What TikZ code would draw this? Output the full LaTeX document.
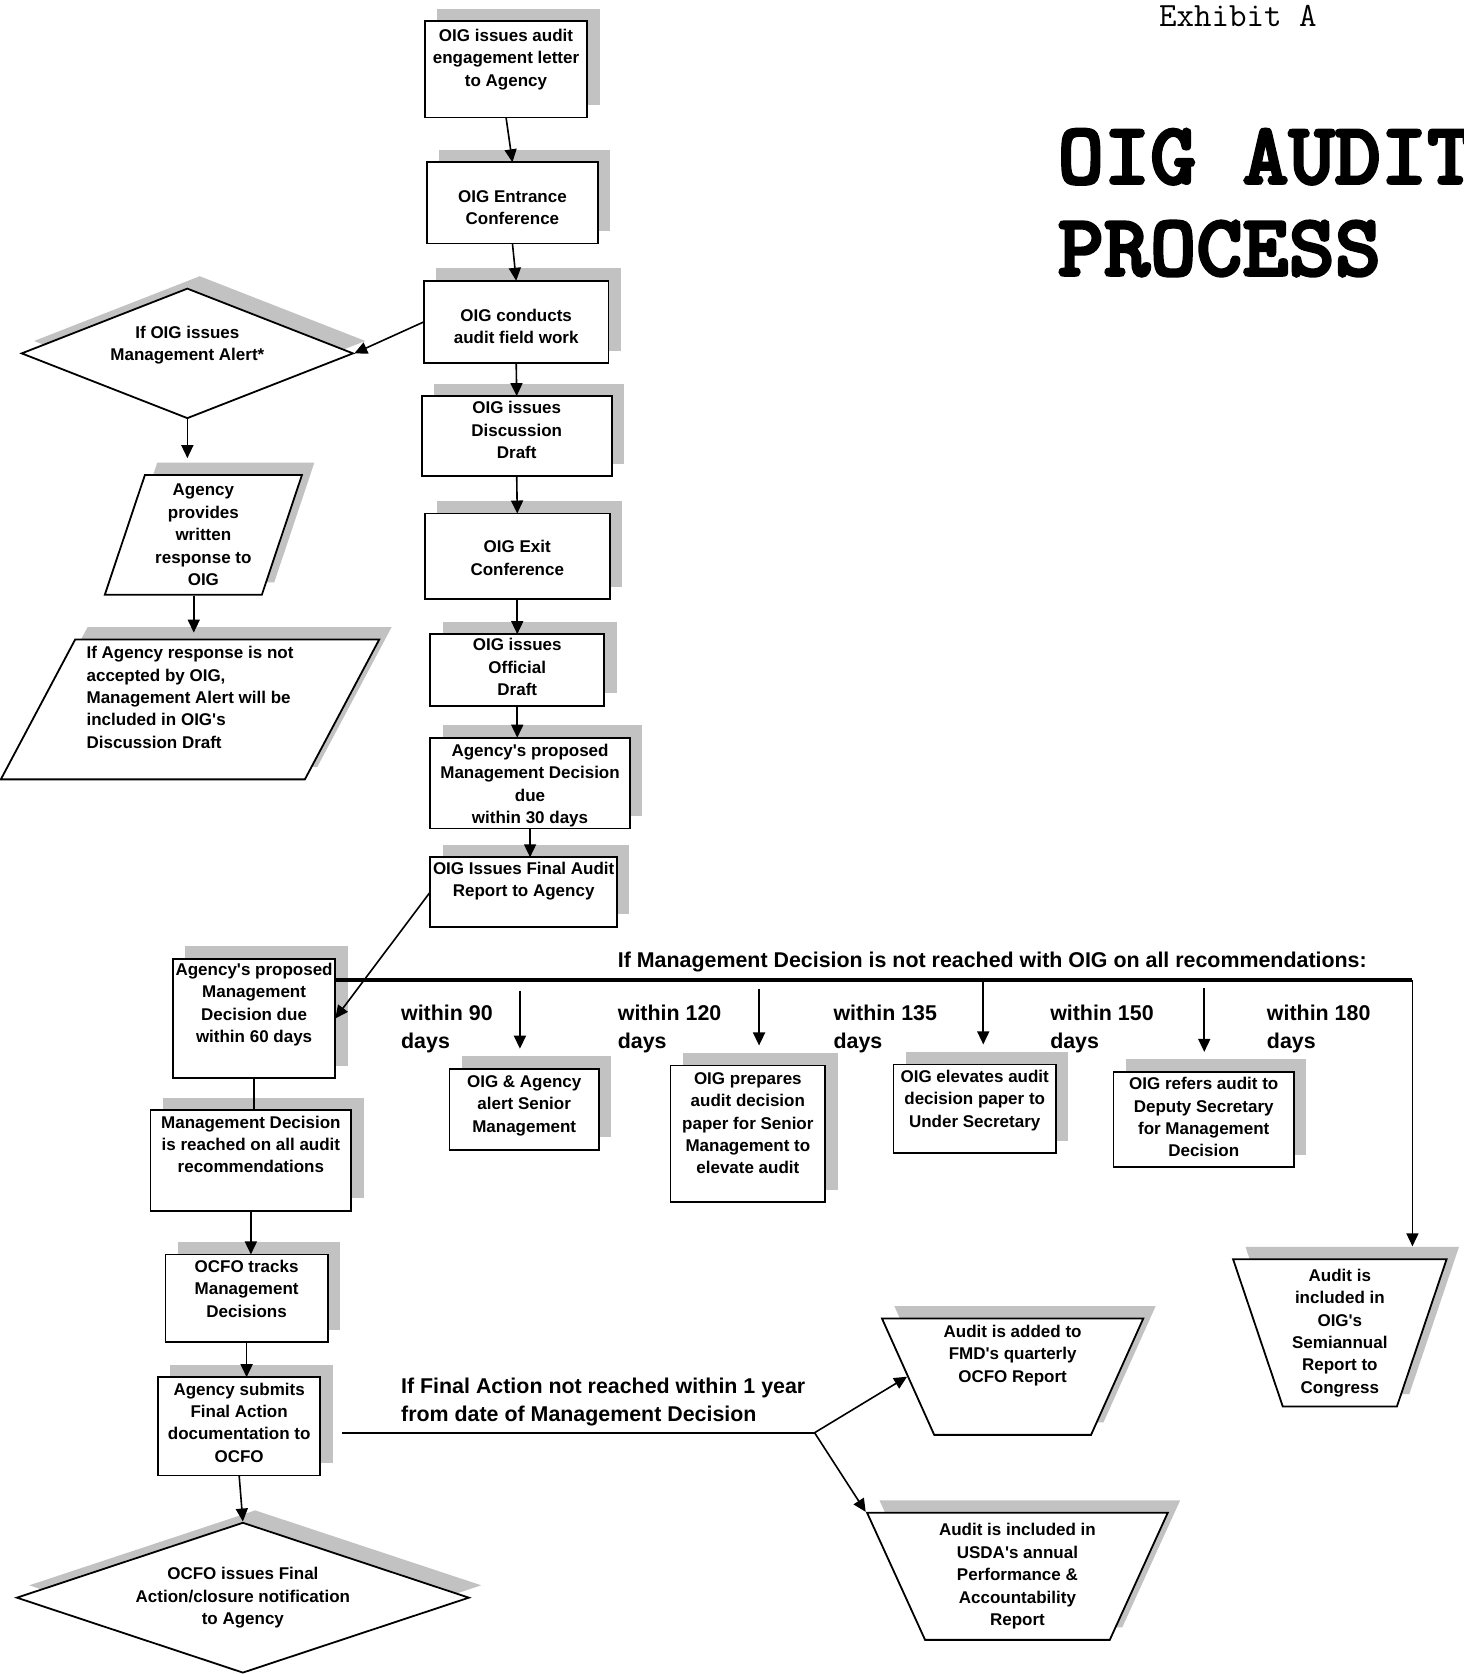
\documentclass[tikz,border=0pt]{standalone}
\usepackage{fontspec}
\setmainfont{Liberation Sans}
\newfontfamily\titlefont{lmmonolt10-bold.otf}[FakeBold=3]
\usetikzlibrary{shapes.geometric,shadows,arrows.meta}
\newlength{\unitpx}\setlength{\unitpx}{0.534pt}
\newcommand{\boxfont}{\fontsize{8.5}{11.2}\selectfont\bfseries}
\newcommand{\notefont}{\fontsize{10.7}{13.9}\selectfont\bfseries}
\newcommand{\ap}{\textquotesingle}
% box of #1 x #2 px, text lines start #3 px below the top
\newcommand{\boxtext}[4]{\parbox[c][#2\unitpx][t]{#1\unitpx}{\vspace*{#3\unitpx}\makebox[#1\unitpx]{\begin{tabular}{@{}c@{}}#4\end{tabular}}}}
\tikzset{every picture/.style={line width=0.8pt},
  boxshadow/.style={general shadow={fill=gray!48, shadow xshift=6.2pt, shadow yshift=6.2pt}},
  procbox/.style={draw, line width=0.9pt, fill=white, rectangle, inner sep=0pt, outer sep=0pt, anchor=north west, font=\boxfont, boxshadow},
  decision/.style={draw, line width=0.9pt, fill=white, diamond, inner sep=0pt, font=\boxfont, align=center, boxshadow},
  slantbox/.style={draw, line width=0.9pt, fill=white, trapezium, trapezium stretches=true, inner sep=0pt, font=\boxfont, boxshadow},
  note/.style={anchor=north west, inner sep=0pt, align=left, font=\notefont},
}

\begin{document}
\begin{tikzpicture}[x=0.534pt,y=0.534pt,yscale=-1,xscale=1,>={Triangle[length=6.5pt,width=6pt]}]
\useasboundingbox (0,0) rectangle (1371,1568);

% Title
\node[anchor=base west, inner sep=0pt, font=\ttfamily\fontsize{17}{20}\selectfont] (exhibit) at (1085,25) {Exhibit A};
\node[anchor=base west, inner sep=0pt, font=\titlefont\fontsize{44}{52}\selectfont] (title1) at (990,172) {OIG AUDIT};
\node[anchor=base west, inner sep=0pt, font=\titlefont\fontsize{44}{52}\selectfont] (title2) at (990,258) {PROCESS};

% Main column
\node[procbox] (engage) at (398,20) {\boxtext{152}{90}{4}{OIG issues audit\\engagement letter\\to Agency}};
\node[procbox] (entrance) at (400,152) {\boxtext{160}{76}{23}{OIG Entrance\\Conference}};
\node[procbox] (fieldwork) at (397,263) {\boxtext{173}{77}{23}{OIG conducts\\audit field work}};
\node[procbox] (discdraft) at (395,371) {\boxtext{178}{75}{2}{OIG issues\\Discussion\\Draft}};
\node[procbox] (exitconf) at (398,481) {\boxtext{173}{80}{22}{OIG Exit\\Conference}};
\node[procbox] (offdraft) at (403,594) {\boxtext{163}{67}{1}{OIG issues\\Official\\Draft}};
\node[procbox] (propmd30) at (403,691) {\boxtext{187}{85}{3}{Agency\ap s proposed\\Management Decision\\due\\within 30 days}};
\node[procbox] (finalrpt) at (403,803) {\boxtext{175}{65}{1}{OIG Issues Final Audit\\Report to Agency}};

% Management Alert branch
\node[decision, aspect=2.55, minimum width=311\unitpx, minimum height=122\unitpx] (alertq) at (175.5,331) {If OIG issues\\Management Alert*\rule[-10pt]{0pt}{0pt}};
\node[slantbox, align=center, trapezium left angle=72, trapezium right angle=108, minimum width=185\unitpx, minimum height=112\unitpx] (reply) at (190.5,501) {Agency\\provides\\written\\response to\\OIG};
\node[slantbox, align=left, trapezium left angle=62, trapezium right angle=118, minimum width=355\unitpx, minimum height=131\unitpx] (notaccept) at (178,664.5) {If Agency response is not\\accepted by OIG,\\Management Alert will be\\included in OIG\ap s\\Discussion Draft\rule[-12pt]{0pt}{0pt}};

% Left lower column
\node[procbox] (propmd60) at (162,898) {\boxtext{152}{112}{1}{Agency\ap s proposed\\Management\\Decision due\\within 60 days}};
\node[procbox] (mdreached) at (141,1040) {\boxtext{188}{94}{2}{Management Decision\\is reached on all audit\\recommendations}};
\node[procbox] (ocfotrack) at (155,1175) {\boxtext{152}{82}{2}{OCFO tracks\\Management\\Decisions}};
\node[procbox] (finaldoc) at (148,1290) {\boxtext{152}{92}{2}{Agency submits\\Final Action\\documentation to\\OCFO}};
\node[decision, aspect=3, minimum width=424\unitpx, minimum height=141\unitpx] (closure) at (227.5,1496.5) {OCFO issues Final\\Action/closure notification\\to Agency};

% Elevation row
\node[procbox] (alert) at (421,1001) {\boxtext{140}{76}{3}{OIG \& Agency\\alert Senior\\Management}};
\node[procbox] (prepare) at (628,998) {\boxtext{145}{128}{3}{OIG prepares\\audit decision\\paper for Senior\\Management to\\elevate audit}};
\node[procbox] (elevate) at (837,997) {\boxtext{152}{83}{2}{OIG elevates audit\\decision paper to\\Under Secretary}};
\node[procbox] (refer) at (1043,1004) {\boxtext{169}{89}{2}{OIG refers audit to\\Deputy Secretary\\for Management\\Decision}};

% Reports
\node[slantbox, align=center, trapezium left angle=108, trapezium right angle=108, minimum width=200\unitpx, minimum height=138\unitpx] (semi) at (1255,1248.5) {Audit is\\included in\\OIG\ap s\\Semiannual\\Report to\\Congress};
\node[slantbox, align=center, trapezium left angle=114, trapezium right angle=114, minimum width=245\unitpx, minimum height=109\unitpx] (fmd) at (948.5,1289.5) {Audit is added to\\FMD\ap s quarterly\\OCFO Report\rule[-23pt]{0pt}{0pt}};
\node[slantbox, align=center, trapezium left angle=115, trapezium right angle=115, minimum width=282\unitpx, minimum height=119\unitpx] (usda) at (953,1476.5) {Audit is included in\\USDA\ap s annual\\Performance \&\\Accountability\\Report};

% Notes
\node[note] (mdnote) at (578,891) {If Management Decision is not reached with OIG on all recommendations:};
\node[note] (lbl90) at (375,941) {within 90\\days};
\node[note] (lbl120) at (578,941) {within 120\\days};
\node[note] (lbl135) at (780,941) {within 135\\days};
\node[note] (lbl150) at (983,941) {within 150\\days};
\node[note] (lbl180) at (1186,941) {within 180\\days};
\node[note] (fanote) at (375,1290) {If Final Action not reached within 1 year\\from date of Management Decision};

% Connectors
\draw[->] (engage.south) -- (entrance.north);
\draw[->] (entrance.south) -- (fieldwork.north);
\draw[->] (fieldwork.south) -- (discdraft.north);
\draw[->] (discdraft.south) -- (exitconf.north);
\draw[->] (exitconf.south) -- (offdraft.north);
\draw[->] (offdraft.south) -- (offdraft.south |- propmd30.north);
\draw[->] (propmd30.south) -- (propmd30.south |- finalrpt.north);
\draw[->] (fieldwork.west) -- (alertq.east);
\draw[->, shorten >=8pt] (alertq.south) -- (alertq.south |- reply.north);
\draw[->, shorten >=3pt] ([xshift=-9\unitpx]reply.south) -- ([xshift=-9\unitpx]reply.south |- notaccept.north);
\draw[->] (finalrpt.west) -- (propmd60.east);

\coordinate (mdturn) at (1323,918);
\draw[line width=1.6pt] (propmd60.east |- mdturn) -- (mdturn);
\draw[->, shorten >=6pt] (mdturn) -- (mdturn |- semi.north);
\coordinate (d90) at (487,928);
\coordinate (d120) at (711,926);
\coordinate (d135) at (921,920);
\coordinate (d150) at (1128,925);
\foreach \s/\b in {d90/alert, d120/prepare, d135/elevate, d150/refer}
  \draw[->, shorten >=10pt] (\s) -- (\s |- \b.north);

\draw (propmd60.south) -- (propmd60.south |- mdreached.north);
\draw[->] (mdreached.south) -- (mdreached.south |- ocfotrack.north);
\draw[->] (ocfotrack.south) -- (ocfotrack.south |- finaldoc.north);
\draw[->] (finaldoc.south) -- (closure.north);

\coordinate (fork) at (763,1342);
\draw ([xshift=20\unitpx]finaldoc.east |- fork) -- (fork);
\draw[->] (fork) -- (fmd.west);
\draw[->] (fork) -- (usda.top left corner);

\end{tikzpicture}
\end{document}
